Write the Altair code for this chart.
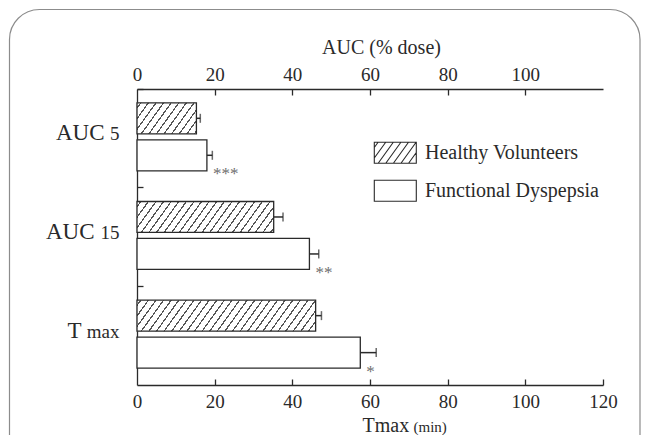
import altair as alt
import pandas as pd

# ---------------- data ----------------
categories = ["AUC 5", "AUC 15", "T max"]
groups = ["Healthy Volunteers", "Functional Dyspepsia"]
healthy_mean = [15.3, 35.2, 46.0]
healthy_err = [1.0, 2.4, 1.5]
fd_mean = [18.0, 44.4, 57.5]
fd_err = [1.4, 2.4, 4.1]
fd_sig = ["***", "**", "*"]
label_big = ["AUC", "AUC", "T"]
label_small = ["5", "15", "max"]
top_ticks = [0, 20, 40, 60, 80, 100]
bottom_ticks = [0, 20, 40, 60, 80, 100, 120]

# ---------------- layout / style ----------------
W, H = 466, 296
X_MAX = 120
FONT = "Liberation Serif"
INK = "#2a2a2a"
big_pad = [33, 43, 56]   # label padding of the large part of each y label
Y_PAD_OUT, OFF_PAD_IN, OFF_PAD_OUT, OFF_ALIGN = 0.0, 0.162, 0.415, 0.45

rows = []
for i, c in enumerate(categories):
    rows.append(dict(category=c, group=groups[0], mean=healthy_mean[i],
                     upper=healthy_mean[i] + healthy_err[i], sig=""))
    rows.append(dict(category=c, group=groups[1], mean=fd_mean[i],
                     upper=fd_mean[i] + fd_err[i], sig=fd_sig[i]))
df = pd.DataFrame(rows)
df_h = df[df.group == groups[0]].reset_index(drop=True)
df_f = df[df.group == groups[1]].reset_index(drop=True)

# pixel size of the offset band (for hatching geometry)
step = H / len(categories)
step2 = step / (2 - OFF_PAD_IN + 2 * OFF_PAD_OUT)
band_h = step2 * (1 - OFF_PAD_IN)

K = 0.72       # hatch slant (x + K*y = const)
PERIOD = 7.6   # px between hatch lines
LW = 1.5
HATCH = "#555555"


def hatch_gradient(w_px, h_px):
    L = w_px + K * h_px
    stops = [{"offset": 0, "color": "#ffffff"}]
    c = PERIOD / 2
    while c - LW / 2 < L:
        a = max(0.0, (c - LW / 2) / L)
        b = min(1.0, (c + LW / 2) / L)
        stops += [{"offset": a, "color": "#ffffff"}, {"offset": a, "color": HATCH},
                  {"offset": b, "color": HATCH}, {"offset": b, "color": "#ffffff"}]
        c += PERIOD
    stops.append({"offset": 1, "color": "#ffffff"})
    s = L / (w_px ** 2 + (K * h_px) ** 2)
    return {"gradient": "linear", "x1": 0, "y1": 0, "x2": s * w_px, "y2": s * K * h_px,
            "stops": stops}


def hatch_path(x0, x1, y0, y1, period):
    p = f"M{x0},{y0}H{x1}V{y1}H{x0}Z"
    c = x0 + K * y0 + period / 2
    while c < x1 + K * y1:
        ya = max(y0, (c - x1) / K)
        yb = min(y1, (c - x0) / K)
        if yb > ya:
            p += f"M{c - K * ya:.3f},{ya:.3f}L{c - K * yb:.3f},{yb:.3f}"
        c += period
    return p


R = 10.5  # legend symbol unit in px
legend_hatch = hatch_path(-2, 2, -1, 1, PERIOD / R)
legend_box = "M-2,-1H2V1H-2Z"


def ternary(labels):
    expr = "'" + labels[-1] + "'"
    for c, l in reversed(list(zip(categories[:-1], labels[:-1]))):
        expr = f"datum.value == '{c}' ? '{l}' : " + expr
    return expr


big_expr = ternary(label_big)
small_expr = ternary(label_small)
big_padding = {
    "condition": [{"test": f"datum.value == '{c}'", "value": p}
                  for c, p in zip(categories[:-1], big_pad[:-1])],
    "value": big_pad[-1],
}

xscale = alt.Scale(domain=[0, X_MAX], nice=False, zero=True)
yscale = alt.Scale(domain=categories, paddingInner=0, paddingOuter=Y_PAD_OUT)
oscale = alt.Scale(domain=groups, paddingInner=OFF_PAD_IN, paddingOuter=OFF_PAD_OUT,
                   align=OFF_ALIGN)


def Y(axis):
    return alt.Y("category:N", sort=categories, scale=yscale, axis=axis)


def YO():
    return alt.YOffset("group:N", sort=groups, scale=oscale)


lab = dict(labelFont=FONT, labelColor=INK, grid=False)
tit = dict(titleFont=FONT, titleColor=INK, titleFontWeight="normal")

axis_big = alt.Axis(orient="left", title=None, ticks=False, tickSize=0, labelExpr=big_expr,
                    labelFontSize=23, labelPadding=big_padding, labelBaseline="alphabetic",
                    labelOffset=2, labelAlign="right", domain=True, domainColor=INK,
                    domainWidth=1.3, **lab)
axis_small = alt.Axis(orient="left", title=None, ticks=False, tickSize=0,
                      labelExpr=small_expr, labelFontSize=19, labelPadding=18,
                      labelBaseline="alphabetic", labelOffset=2, labelAlign="right",
                      domain=False, **lab)
axis_yticks = alt.Axis(orient="right", offset=-W, title=None, labels=False, domain=False,
                       ticks=True, tickSize=6, tickColor=INK, tickWidth=1.3,
                       bandPosition=0, grid=False)

axis_bottom = alt.Axis(orient="bottom", values=bottom_ticks, ticks=False, tickSize=0,
                       labelFontSize=19, labelPadding=7, labelFlush=False, domain=True,
                       domainColor=INK, domainWidth=1.3, title="Tmax", titleFontSize=20,
                       titleX=225, titleY=46, titleAlign="left",
                       titleBaseline="alphabetic", **lab, **tit)
axis_bottom_unit = alt.Axis(orient="bottom", labels=False, ticks=False, domain=False,
                            grid=False, title="(min)", titleFontSize=15, titleX=276,
                            titleY=46, titleAlign="left", titleBaseline="alphabetic", **tit)
axis_top = alt.Axis(orient="top", values=top_ticks, ticks=False, tickSize=0,
                    labelFontSize=19, labelPadding=5, labelFlush=False, domain=True,
                    domainColor=INK, domainWidth=1.3, title="AUC (% dose)",
                    titleFontSize=20, titleX=244, titleY=-36, titleAlign="center",
                    titleBaseline="alphabetic", **lab, **tit)
axis_bottom_in = alt.Axis(orient="top", offset=-H, values=bottom_ticks[1:], labels=False,
                          domain=False, ticks=True, tickSize=6, tickColor=INK,
                          tickWidth=1.3, title=None, grid=False)
axis_top_in = alt.Axis(orient="bottom", offset=-H, values=top_ticks[1:], labels=False,
                       domain=False, ticks=True, tickSize=6, tickColor=INK, tickWidth=1.3,
                       title=None, grid=False)

layers = []

# frame of the slide
frame = alt.Chart(alt.Data(values=[{}])).mark_rect(
    fillOpacity=0, stroke="#8c8c8c", strokeWidth=1.2, cornerRadius=30
).encode(x=alt.value(-127.5), x2=alt.value(503), y=alt.value(-79.5), y2=alt.value(H + 100))
layers.append(frame)

# healthy volunteers (hatched) bars
for i in range(len(df_h)):
    w_px = df_h.loc[i, "mean"] * W / X_MAX
    ax = axis_bottom_unit if i == 0 else None
    layers.append(
        alt.Chart(df_h.iloc[[i]]).mark_bar(
            fill=hatch_gradient(w_px, band_h), stroke=INK, strokeWidth=1.3
        ).encode(x=alt.X("mean:Q", scale=xscale, axis=ax), y=Y(None), yOffset=YO())
    )

# functional dyspepsia (open) bars
layers.append(
    alt.Chart(df_f).mark_bar(fill="white", stroke=INK, strokeWidth=1.3).encode(
        x=alt.X("mean:Q", scale=xscale, axis=axis_bottom), y=Y(axis_big), yOffset=YO())
)

# error bars
layers.append(
    alt.Chart(df).mark_rule(color=INK, strokeWidth=1.5).encode(
        x=alt.X("mean:Q", scale=xscale, axis=axis_top), x2="upper:Q",
        y=Y(axis_small), yOffset=YO())
)
layers.append(
    alt.Chart(df).mark_tick(color=INK, thickness=1.5, size=9).encode(
        x=alt.X("upper:Q", scale=xscale, axis=axis_bottom_in), y=Y(axis_yticks),
        yOffset=YO())
)

# significance stars
layers.append(
    alt.Chart(df_f).mark_text(align="left", baseline="middle", dx=6, dy=19, font=FONT,
                              fontSize=17, color="#6e6e6e").encode(
        x=alt.X("mean:Q", scale=xscale, axis=axis_top_in), y=Y(None), yOffset=YO(),
        text="sig:N")
)

# legend
leg_df = pd.DataFrame({"group": groups})
layers.append(
    alt.Chart(leg_df).mark_point(opacity=0, filled=False).encode(
        shape=alt.Shape("group:N", sort=groups,
                        scale=alt.Scale(domain=groups, range=[legend_hatch, legend_box]),
                        legend=alt.Legend(orient="none", legendX=246.8, legendY=52.2,
                                          title=None, padding=0, rowPadding=11.1,
                                          labelOffset=18.2, labelFont=FONT,
                                          labelFontSize=20, labelColor=INK,
                                          labelLimit=400, symbolSize=(2 * R) ** 2,
                                          symbolStrokeColor=INK, symbolStrokeWidth=1.1,
                                          symbolFillColor="white", symbolOpacity=1)))
)

chart = alt.layer(*layers).resolve_axis(x="independent", y="independent").properties(
    width=W, height=H,
    autosize=alt.AutoSizeParams(type="none"),
    padding={"left": 129, "top": 81, "right": 38, "bottom": 54},
    background="white",
).configure_view(stroke=None)

chart.save("out.html", embed_options={"renderer": "svg", "actions": False})
